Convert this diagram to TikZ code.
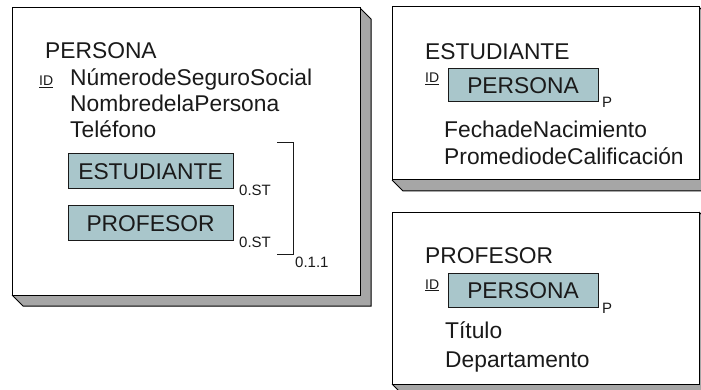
\documentclass[tikz,border=0pt]{standalone}
\usepackage{fontspec}
\setmainfont{Liberation Sans}
\definecolor{boxfill}{HTML}{A9C6CB}
\definecolor{shadowgray}{HTML}{A6A6A6}
\definecolor{ink}{HTML}{1A1A1A}
\tikzset{
  big/.style={font=\fontsize{22.8}{26}\selectfont, inner sep=0pt, anchor=base west, text=ink},
  small/.style={font=\fontsize{15}{17}\selectfont, inner sep=0pt, anchor=base west, text=ink},
  idlab/.style={font=\fontsize{14}{16}\selectfont, inner sep=0pt, anchor=base west, text=ink},
  refbox/.style={draw=ink, fill=boxfill, line width=1pt, inner sep=0pt,
    font=\fontsize{22.8}{26}\selectfont, text=ink, text height=16.2pt, text depth=0pt},
  outline/.style={draw=black, line width=1pt},
}
\newcommand\entitybox[5]{%
  \fill[shadowgray] (#3,#2) -- (#3+11,#2+11) -- (#3+11,#4+11) -- (#1+11,#4+11) -- (#1,#4) -- (#3,#4) -- cycle;
  \draw[outline, line join=miter] (#3,#2) -- (#3+11,#2+11) -- (#3+11,#4+11) -- (#1+11,#4+11) -- (#1,#4);
  \draw[outline, fill=white] (#1,#2) rectangle (#3,#4);
  \coordinate (#5-nw) at (#1,#2);
  \coordinate (#5-se) at (#3,#4);
}
\begin{document}
\begin{tikzpicture}[x=1pt,y=-1pt]
\useasboundingbox (0,0) rectangle (701,390);
\clip (0,0) rectangle (701,390);

% ---------- PERSONA ----------
\entitybox{12}{8}{360}{295}{persona}
\node[big] (pT) at (45,59) {PERSONA};
\node[idlab] (pID) at (39,86) {\underline{ID}};
\node[big] (pA1) at (70,86) {NúmerodeSeguroSocial};
\node[big] (pA2) at (70,112) {NombredelaPersona};
\node[big] (pA3) at (70,138) {Teléfono};
\node[refbox, minimum width=165pt, minimum height=35pt] (pE) at (150.5,171.5) {ESTUDIANTE};
\node[small] (pE0) at (239,196) {0.ST};
\node[refbox, minimum width=165pt, minimum height=34pt] (pP) at (150.5,223) {PROFESOR};
\node[small] (pP0) at (239,247) {0.ST};
\coordinate (brA) at (277,143);
\coordinate (brB) at (277,254);
\draw[draw=ink, line width=1pt] (brA) -- ++(16,0) coordinate (brC) -- (brC |- brB) -- (brB);
\node[small] (p011) at (295,267) {0.1.1};

% ---------- ESTUDIANTE ----------
\entitybox{392}{7}{699}{180}{estudiante}
\node[big] (eT) at (425,60) {ESTUDIANTE};
\node[idlab] (eID) at (425,83) {\underline{ID}};
\node[refbox, minimum width=150pt, minimum height=33pt] (eR) at (523,85.5) {PERSONA};
\node[small] (eP) at (602,108) {P};
\node[big] (eA1) at (444,138) {FechadeNacimiento};
\node[big] (eA2) at (444,165) {PromediodeCalificación};

% ---------- PROFESOR ----------
\entitybox{392}{212}{699}{384}{profesor}
\node[big] (fT) at (425,263) {PROFESOR};
\node[idlab] (fID) at (425,289) {\underline{ID}};
\node[refbox, minimum width=150pt, minimum height=34pt] (fR) at (523,290) {PERSONA};
\node[small] (fP) at (602,313) {P};
\node[big] (fA1) at (445,338) {Título};
\node[big] (fA2) at (445,367) {Departamento};
\end{tikzpicture}
\end{document}
